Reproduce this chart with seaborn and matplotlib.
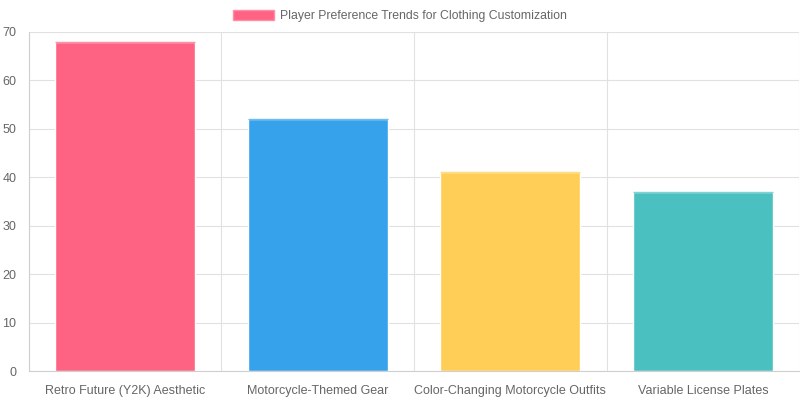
import matplotlib
matplotlib.use('Agg')
import matplotlib.pyplot as plt
import matplotlib.patches as mpatches
import seaborn as sns
import pandas as pd
import numpy as np

# Chart values
categories = ['Retro Future (Y2K) Aesthetic', 'Motorcycle-Themed Gear',
              'Color-Changing Motorcycle Outfits', 'Variable License Plates']
preferences = [68, 52, 41, 37]
colors = ['#FF6384', '#36A2EB', '#FFCE56', '#4BC0C0']
edge_colors = ['#FF8FA6', '#6DBDF1', '#FFDD88', '#7ED3D3']
legend_label = 'Player Preference Trends for Clothing Customization'

df = pd.DataFrame({'category': categories, 'value': preferences})

sns.set_style('white')
plt.rcParams['font.family'] = ['Liberation Sans', 'DejaVu Sans']

fig = plt.figure(figsize=(8, 4), dpi=100)
ax = fig.add_axes([0.036, 0.0725, 0.963, 0.8475])

bar_w = 0.725
sns.barplot(data=df, x='category', y='value', hue='category',
            palette=colors, width=bar_w, saturation=1, legend=False, ax=ax)

# lighter top edge on each bar
for i, v in enumerate(preferences):
    ax.hlines(v, i - bar_w / 2, i + bar_w / 2, color=edge_colors[i], lw=1, zorder=3)

ax.set_xlim(-0.5, 3.5)
ax.set_ylim(0, 70)
ax.set_yticks(range(0, 71, 10))
ax.set_xticks(np.arange(-0.5, 3.6, 1), minor=True)
ax.set_xlabel('')
ax.set_ylabel('')

grid_col = '#E1E1E1'
ax.set_axisbelow(True)
ax.yaxis.grid(True, color=grid_col, lw=0.8)
ax.xaxis.grid(True, which='minor', color=grid_col, lw=0.8)
ax.tick_params(axis='x', which='major', length=0, pad=10, labelsize=9, labelcolor='#666666')
ax.tick_params(axis='x', which='minor', length=5, width=0.8, color=grid_col)
ax.tick_params(axis='y', length=5, width=0.8, color=grid_col, pad=4, labelsize=9, labelcolor='#666666')

for side in ['top', 'right']:
    ax.spines[side].set_visible(False)
ax.spines['left'].set_color('#CFCFCF')
ax.spines['bottom'].set_color('#CFCFCF')
ax.spines['left'].set_linewidth(0.8)
ax.spines['bottom'].set_linewidth(0.8)

handle = mpatches.Patch(facecolor=colors[0], edgecolor=edge_colors[0], label=legend_label)
fig.legend(handles=[handle], loc='center', bbox_to_anchor=(0.5, 0.96), frameon=False,
           fontsize=8.8, labelcolor='#666666', handlelength=3.3, handleheight=0.9,
           handletextpad=0.5)

fig.savefig('out.png', dpi=100)
